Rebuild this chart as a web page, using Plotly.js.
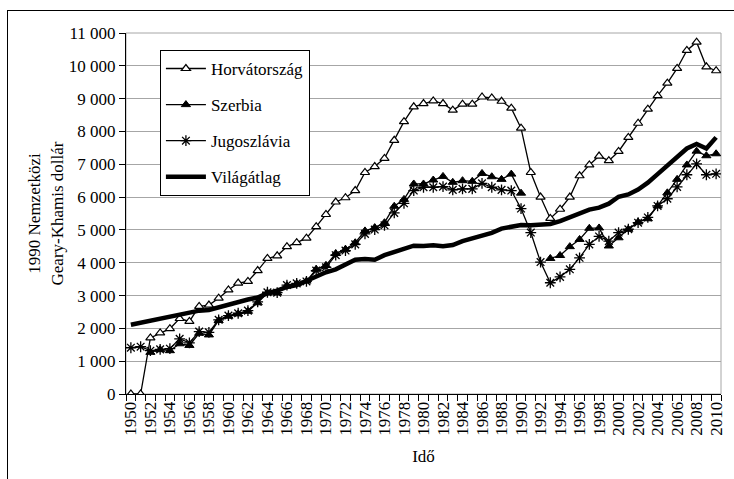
<!DOCTYPE html>
<html><head><meta charset="utf-8">
<script src="https://cdn.plot.ly/plotly-3.0.1.min.js"></script>
<style>
body{margin:0;background:#fff}
#chart{width:734px;height:479px;position:absolute;left:0;top:0}
#frame{position:absolute;left:7px;top:10px;width:740px;height:480px;border:1px solid #000;pointer-events:none}
</style>
</head><body><div id="chart"></div><div id="frame"></div>
<script>
const years = [1950,1951,1952,1953,1954,1955,1956,1957,1958,1959,
1960,1961,1962,1963,1964,1965,1966,1967,1968,1969,
1970,1971,1972,1973,1974,1975,1976,1977,1978,1979,
1980,1981,1982,1983,1984,1985,1986,1987,1988,1989,
1990,1991,1992,1993,1994,1995,1996,1997,1998,1999,
2000,2001,2002,2003,2004,2005,2006,2007,2008,2009,2010];

const horvatorszag = [0,0,1710,1860,1990,2300,2210,2670,2710,2920,
3170,3380,3430,3760,4130,4210,4490,4610,4750,5100,
5470,5850,5980,6200,6750,6930,7180,7730,8300,8750,
8850,8930,8850,8650,8830,8830,9050,9020,8920,8710,
8100,6750,6000,5350,5630,6000,6650,6980,7250,7110,
7390,7820,8250,8680,9090,9470,9920,10470,10720,9970,9850];

const szerbia = [null,null,1270,1350,1320,1530,1480,1850,1800,2240,
2370,2440,2520,2780,3080,3080,3300,3360,3440,3800,
3920,4280,4410,4610,4970,5070,5220,5720,5930,6400,
6400,6520,6630,6450,6500,6480,6720,6620,6540,6700,
6120,null,null,4130,4220,4490,4710,5050,5060,4510,
4760,5020,5240,5340,5730,6130,6540,6980,7400,7260,7320];

const jugoszlavia = [1410,1440,1320,1360,1380,1680,1560,1900,1880,2260,
2390,2460,2540,2810,3100,3090,3320,3370,3430,3760,
3860,4230,4370,4560,4880,5010,5140,5520,5810,6200,
6300,6300,6320,6220,6250,6250,6420,6300,6220,6200,
5650,4920,4020,3390,3570,3800,4150,4560,4800,4660,
4920,5020,5220,5380,5730,5950,6310,6680,7010,6680,6710];

const vilagatlag = [2110,2170,2210,2280,2330,2420,2480,2540,2560,2640,
2740,2800,2880,2940,3070,3150,3260,3320,3450,3590,
3710,3800,3930,4090,4110,4090,4230,4320,4430,4520,
4510,4530,4500,4540,4660,4740,4820,4910,5040,5110,
5150,5140,5160,5180,5270,5380,5490,5620,5680,5800,
6010,6080,6230,6440,6700,6950,7220,7480,7620,7480,7820];

const seriesNames = ['Horvátország','Szerbia','Jugoszlávia','Világátlag'];
const yTitle = '1990 Nemzetközi<br>Geary-Khamis dollár';
const xTitle = 'Idő';

const F = '"Liberation Serif","Times New Roman",Times,serif';
const font = {family:F, size:17, color:'#000'};

const traces = [
  {x:years, y:horvatorszag, name:seriesNames[0], legendgroup:'a', mode:'lines+markers',
   line:{color:'#000', width:1.3},
   marker:{symbol:'triangle-up', size:8, color:'#fff', line:{color:'#000', width:1.2}}},
  {x:years, y:szerbia, name:seriesNames[1], legendgroup:'b', mode:'lines+markers',
   line:{color:'#000', width:1.3},
   marker:{symbol:'triangle-up', size:8, color:'#000', line:{color:'#000', width:1}}},
  {x:years, y:jugoszlavia, name:seriesNames[2], legendgroup:'c', mode:'lines+markers',
   line:{color:'#000', width:1.3},
   marker:{symbol:'asterisk-open', size:9, color:'#000', line:{color:'#000', width:1.3}}},
  {x:years, y:vilagatlag, name:seriesNames[3], legendgroup:'d', mode:'lines',
   line:{color:'#000', width:4.5}}
];

const layout = {
  width:734, height:479,
  margin:{l:126, r:13, t:33, b:85},
  paper_bgcolor:'#fff', plot_bgcolor:'#fff',
  font:font,
  separators:', ',
  showlegend:true,
  legend:{x:0.057, y:0.953, xanchor:'left', yanchor:'top', bgcolor:'#fff',
    bordercolor:'#000', borderwidth:1, font:font, traceorder:'grouped', tracegroupgap:11,
    itemwidth:40, entrywidth:157, entrywidthmode:'pixels'},
  xaxis:{range:[1949.5,2010.5], tickmode:'linear', tick0:1950, dtick:2, tickangle:-90,
    ticks:'', showgrid:false, zeroline:false, showline:true, linecolor:'#000', linewidth:1,
    tickfont:font,
    minor:{tickmode:'linear', tick0:1949.5, dtick:1, ticks:'outside', ticklen:6, tickcolor:'#000', tickwidth:1, showgrid:false},
    title:{text:xTitle, font:font, standoff:15}},
  yaxis:{range:[0,11000], tickmode:'linear', tick0:0, dtick:1000, tickformat:',d',
    ticks:'outside', ticklen:6, tickcolor:'#000', showline:true, linecolor:'#000', linewidth:1,
    showgrid:true, gridcolor:'#a6a6a6', gridwidth:1, zeroline:false, tickfont:font},
  annotations:[{text:yTitle, xref:'paper', yref:'paper', x:-0.1345, y:0.5,
    xanchor:'center', yanchor:'middle', textangle:-90, showarrow:false, font:font}],
  shapes:[{type:'rect', xref:'paper', yref:'paper', x0:0, x1:1, y0:0, y1:1,
    line:{color:'#a6a6a6', width:1}, layer:'below'}]
};

Plotly.newPlot('chart', traces, layout, {displayModeBar:false, staticPlot:true});
</script></body></html>
